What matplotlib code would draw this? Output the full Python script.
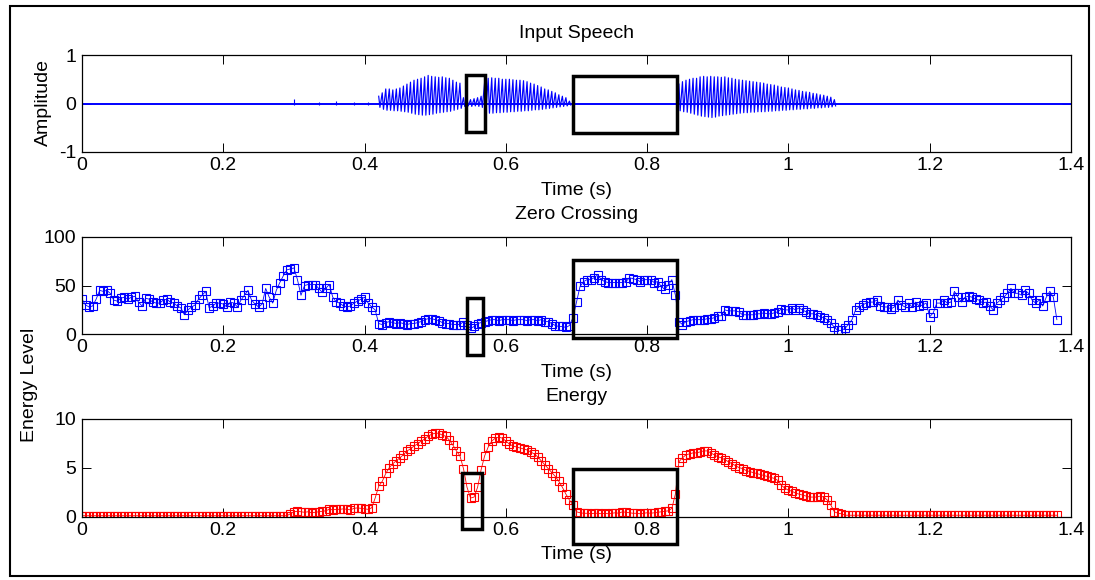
import numpy as np
import matplotlib
matplotlib.use("Agg")
import matplotlib.pyplot as plt
from matplotlib.patches import Rectangle

plt.rcParams['font.family'] = ['Liberation Sans', 'DejaVu Sans']
plt.rcParams['axes.unicode_minus'] = False

# ---------------- data ----------------
FRAME_STEP = 0.005  # s between analysis frames

zcr = [
    36, 30, 28, 29, 36, 45, 44, 45, 42, 35,
    34, 37, 38, 36, 38, 39, 33, 29, 37, 36,
    33, 32, 32, 35, 36, 33, 32, 29, 27, 20,
    25, 28, 30, 36, 40, 44, 27, 29, 32, 32,
    31, 28, 33, 32, 28, 35, 40, 45, 35, 31,
    28, 31, 47, 38, 32, 45, 53, 60, 66, 67,
    68, 56, 40, 50, 51, 51, 51, 47, 43, 47,
    51, 38, 33, 32, 29, 28, 29, 32, 34, 36,
    38, 32, 28, 25, 11, 10, 12, 13, 12, 11,
    12, 11, 10, 11, 11, 12, 13, 15, 16, 16,
    15, 14, 12, 11, 11, 10, 10, 10, 13, 10,
    6, 8, 11, 12, 13, 14, 15, 15, 14, 15,
    15, 15, 14, 15, 15, 15, 14, 15, 15, 14,
    15, 13, 13, 11, 9, 8, 8, 7, 9, 17,
    33, 49, 54, 56, 56, 58, 61, 56, 54, 53,
    53, 53, 53, 53, 54, 58, 57, 56, 54, 56,
    56, 56, 53, 54, 49, 46, 51, 56, 40, 13,
    10, 13, 14, 15, 15, 15, 15, 16, 16, 17,
    19, 19, 25, 24, 24, 24, 23, 20, 20, 20,
    20, 21, 21, 22, 21, 21, 22, 23, 26, 25,
    25, 27, 25, 27, 25, 23, 21, 21, 20, 18,
    17, 15, 12, 7, 4, 4, 6, 10, 15, 25,
    28, 30, 32, 33, 33, 35, 29, 28, 28, 26,
    28, 35, 30, 28, 32, 28, 33, 29, 30, 32,
    18, 22, 32, 32, 35, 32, 33, 44, 38, 33,
    38, 39, 38, 36, 35, 32, 33, 29, 25, 32,
    35, 38, 42, 47, 42, 42, 40, 45, 42, 35,
    32, 35, 29, 38, 44, 38, 15,
]

energy = (
    [0.1] * 59 +
    [0.3, 0.5, 0.55, 0.5, 0.45, 0.5, 0.4, 0.45, 0.5, 0.55, 0.6,
     0.75, 0.7, 0.75, 0.75, 0.8, 0.75, 0.7, 0.85, 0.9, 0.85,
     0.8, 0.75, 0.9, 1.9, 3.1, 3.6, 4.4, 5.0, 5.4, 5.7,
     6.0, 6.3, 6.7, 6.9, 7.2, 7.4, 7.7, 7.9, 8.2, 8.4,
     8.5, 8.5, 8.3, 8.2, 7.8, 7.3, 6.7, 6.2, 4.9, 3.0,
     1.9, 2.0, 3.0, 4.8, 6.2, 7.1, 7.7, 8.0, 8.1, 8.0,
     7.7, 7.4, 7.2, 7.1, 7.0, 6.9, 6.8, 6.6, 6.4, 6.1,
     5.7, 5.3, 4.9, 4.5, 4.1, 3.6, 3.0, 2.3, 1.7, 1.2,
     0.5, 0.4, 0.35, 0.35, 0.3, 0.35, 0.35, 0.3, 0.35, 0.3,
     0.35, 0.4, 0.35, 0.5, 0.45, 0.4, 0.35, 0.35, 0.3, 0.35,
     0.4, 0.35, 0.4, 0.45, 0.5, 0.55, 0.6, 0.85, 2.3, 5.6,
     6.0, 6.3, 6.4, 6.5, 6.5, 6.6, 6.7, 6.7, 6.5, 6.3,
     6.1, 6.0, 5.8, 5.6, 5.4, 5.2, 5.0, 4.9, 4.7, 4.6,
     4.5, 4.4, 4.3, 4.2, 4.1, 4.0, 3.9, 3.7, 3.2, 2.9,
     2.7, 2.6, 2.4, 2.3, 2.2, 2.1, 2.0, 2.0, 2.0, 2.1,
     2.0, 1.7, 1.2, 0.5, 0.35, 0.3] +
    [0.15] * 61
)

# speech waveform: envelope of pitch pulses (upper / lower peaks) every 5 ms
voiced_a_start = 0.420
voiced_a_hi = [0.15, 0.22, 0.30, 0.30, 0.28, 0.30, 0.32, 0.36, 0.40, 0.44,
               0.48, 0.50, 0.52, 0.55, 0.58, 0.56, 0.55, 0.54, 0.55, 0.53,
               0.52, 0.48, 0.44, 0.42, 0.12, 0.10, 0.08, 0.10, 0.12, 0.15,
               0.45, 0.52, 0.53, 0.52, 0.52, 0.50, 0.50, 0.50, 0.49, 0.48,
               0.48, 0.47, 0.45, 0.42, 0.40, 0.37, 0.34, 0.30, 0.28, 0.25,
               0.22, 0.18, 0.15, 0.12, 0.05]
voiced_a_lo = [-0.08, -0.12, -0.14, -0.14, -0.15, -0.15, -0.16, -0.17, -0.18, -0.20,
               -0.22, -0.23, -0.24, -0.24, -0.23, -0.22, -0.20, -0.19, -0.18, -0.17,
               -0.16, -0.14, -0.12, -0.10, -0.06, -0.05, -0.06, -0.05, -0.06, -0.08,
               -0.15, -0.20, -0.20, -0.19, -0.19, -0.18, -0.18, -0.17, -0.17, -0.16,
               -0.16, -0.15, -0.15, -0.14, -0.13, -0.13, -0.12, -0.11, -0.10, -0.09,
               -0.08, -0.07, -0.06, -0.05, -0.03]
voiced_b_start = 0.845
voiced_b_hi = [0.40, 0.45, 0.48, 0.50, 0.52, 0.52, 0.55, 0.56, 0.55, 0.56,
               0.55, 0.55, 0.54, 0.55, 0.53, 0.52, 0.50, 0.49, 0.48, 0.47,
               0.46, 0.45, 0.44, 0.43, 0.42, 0.40, 0.39, 0.38, 0.36, 0.34,
               0.33, 0.32, 0.30, 0.28, 0.27, 0.25, 0.24, 0.23, 0.21, 0.20,
               0.18, 0.17, 0.15, 0.13, 0.08]
voiced_b_lo = [-0.15, -0.17, -0.18, -0.20, -0.22, -0.24, -0.26, -0.27, -0.28, -0.29,
               -0.28, -0.26, -0.25, -0.24, -0.23, -0.22, -0.21, -0.20, -0.19, -0.19,
               -0.18, -0.18, -0.17, -0.17, -0.17, -0.16, -0.16, -0.15, -0.15, -0.14,
               -0.14, -0.13, -0.13, -0.12, -0.12, -0.11, -0.11, -0.10, -0.10, -0.09,
               -0.09, -0.08, -0.08, -0.07, -0.05]
quiet_t = [0.300, 0.335, 0.360, 0.385, 0.405]
quiet_hi = [0.10, 0.04, 0.05, 0.04, 0.03]
quiet_lo = [-0.03, -0.03, -0.03, -0.03, -0.03]

xticks = [0, 0.2, 0.4, 0.6, 0.8, 1.0, 1.2, 1.4]
xticklabels = ['0', '0.2', '0.4', '0.6', '0.8', '1', '1.2', '1.4']

# highlighted regions (x0, y0, x1, y1) in data units of each panel
boxes_speech = [(0.5432, -0.58, 0.5705, 0.59), (0.6946, -0.61, 0.8418, 0.57)]
boxes_zcr = [(0.5443, -21, 0.5671, 37), (0.6955, -3.5, 0.8427, 76)]
boxes_energy = [(0.5384, -1.25, 0.5658, 4.5), (0.6955, -2.8, 0.8418, 4.9)]

# ---------------- figure ----------------
W, H = 1095, 580
fig = plt.figure(figsize=(W / 100, H / 100), dpi=100)
FS = 14


def px_axes(top, bottom, left=82, right=1071):
    return fig.add_axes([left / W, 1 - bottom / H, (right - left) / W, (bottom - top) / H])


def style(ax, ylim, yticks, title, box_list):
    ax.set_xlim(0, 1.4)
    ax.set_ylim(*ylim)
    ax.set_xticks(xticks)
    ax.set_xticklabels(xticklabels)
    ax.set_yticks(yticks)
    ax.set_yticklabels([str(v) for v in yticks])
    ax.tick_params(direction='in', length=6.5, width=0.7, top=True, right=True,
                   labelsize=FS, colors='black')
    ax.tick_params(axis='x', pad=3.5)
    ax.tick_params(axis='y', pad=4)
    for s in ax.spines.values():
        s.set_linewidth(0.9)
    h_px = ax.get_position().height * H
    ax.text(0.5, 1 + 22 / h_px, title, transform=ax.transAxes, ha='center',
            va='center', fontsize=FS)
    ax.text(0.5, -38 / h_px, 'Time (s)', transform=ax.transAxes, ha='center',
            va='center', fontsize=FS)
    for (x0, y0, x1, y1) in box_list:
        ax.add_patch(Rectangle((x0, y0), x1 - x0, y1 - y0, fill=False,
                               edgecolor='black', linewidth=2.5, clip_on=False,
                               zorder=10, joinstyle='miter'))


# --- Input speech ---
ax1 = px_axes(55, 152)
ax1.plot([0, 1.4], [0, 0], color='blue', lw=1.4)
ax1.vlines(quiet_t, quiet_lo, quiet_hi, color='blue', lw=0.8)
for start, hi, lo in [(voiced_a_start, voiced_a_hi, voiced_a_lo),
                      (voiced_b_start, voiced_b_hi, voiced_b_lo)]:
    t = start + FRAME_STEP * np.arange(len(hi))
    xs = np.column_stack([t, t + FRAME_STEP * 0.35]).ravel()
    ys = np.column_stack([hi, lo]).ravel()
    ax1.plot(xs, ys, color='blue', lw=0.85)
style(ax1, (-1, 1), [-1, 0, 1], 'Input Speech', boxes_speech)

# --- Zero crossing ---
ax2 = px_axes(236.7, 334.3)
t_zcr = FRAME_STEP * np.arange(len(zcr))
ax2.plot(t_zcr, zcr, color='blue', lw=0.6, marker='s', ms=5.6, mfc='none',
         mec='blue', mew=0.8)
style(ax2, (0, 100), [0, 50, 100], 'Zero Crossing', boxes_zcr)

# --- Energy ---
ax3 = px_axes(418.5, 516.7)
t_en = FRAME_STEP * np.arange(len(energy))
ax3.plot(t_en, energy, color='red', lw=0.6, marker='s', ms=5.6, mfc='none',
         mec='red', mew=0.8)
style(ax3, (0, 10), [0, 5, 10], 'Energy', boxes_energy)

# y labels
fig.text(43 / W, 1 - 102.6 / H, 'Amplitude', rotation=90, ha='center',
         va='center', fontsize=FS)
fig.text(30 / W, 1 - 385 / H, 'Energy Level', rotation=90, ha='center',
         va='center', fontsize=FS)

# outer frame
fig.patches.append(Rectangle((9.5 / W, 1 - 576 / H), (1089 - 9.5) / W, (576 - 5.5) / H,
                             transform=fig.transFigure, fill=False,
                             edgecolor='black', linewidth=1.5))

fig.savefig('out.png', dpi=100)
